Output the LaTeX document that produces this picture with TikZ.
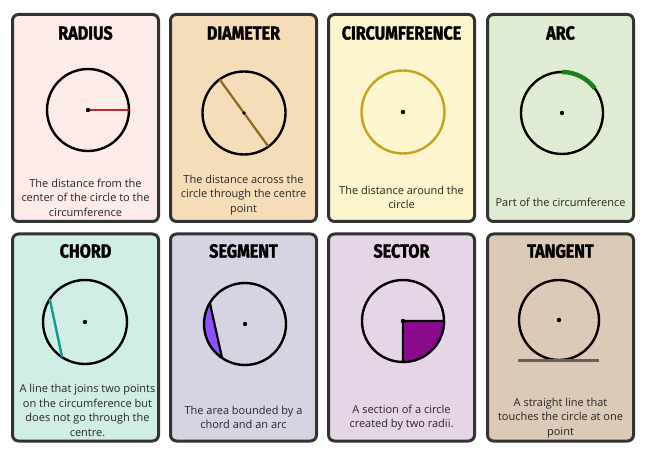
\documentclass[tikz,border=0pt]{standalone}
\usepackage{fontspec}
\usetikzlibrary{calc}
\setmainfont{Open Sans}
\newfontfamily\titlefont[FakeStretch=0.85,FakeBold=1.6]{Fira Sans}
\definecolor{bgA}{HTML}{FDEBEA}
\definecolor{bgB}{HTML}{F6DDB9}
\definecolor{bgC}{HTML}{FCF5CD}
\definecolor{bgD}{HTML}{E0EBD3}
\definecolor{bgE}{HTML}{D0EDE6}
\definecolor{bgF}{HTML}{D6D4E3}
\definecolor{bgG}{HTML}{E6D5E7}
\definecolor{bgH}{HTML}{DCCAB8}
\definecolor{bordc}{HTML}{333333}
\definecolor{txtc}{HTML}{262626}
\definecolor{radc}{HTML}{C0262D}
\definecolor{diac}{HTML}{8A6A1F}
\definecolor{circc}{HTML}{C9A020}
\definecolor{arcc}{HTML}{1E7D1E}
\definecolor{chordc}{HTML}{15998F}
\definecolor{segc}{HTML}{8C52FF}
\definecolor{secc}{HTML}{8B0A8B}
\definecolor{tanc}{HTML}{6A5E55}
\tikzset{
  card/.style={draw=bordc, line width=3pt, rounded corners=6pt, minimum width=146pt, minimum height=207pt, inner sep=0pt},
  ttl/.style={font=\titlefont\bfseries\fontsize{19}{20}\selectfont, text=black, inner sep=0pt},
  desc/.style={font=\fontsize{11}{14.6}\selectfont, text=txtc, align=center, inner sep=0pt},
  ring/.style={line width=2.4pt, draw=black},
  dot/.style={circle, fill=black, inner sep=0pt, minimum size=4.4pt},
}
\begin{document}
\begin{tikzpicture}[x=1pt, y=-1pt]
\useasboundingbox (0,0) rectangle (651,454);
\fill[white] (0,0) rectangle (651,454);
% cards
\node[card, fill=bgA] (c1) at (85.5,118) {};
\node[card, fill=bgB] (c2) at (243.5,118) {};
\node[card, fill=bgC] (c3) at (401.5,118) {};
\node[card, fill=bgD] (c4) at (560.5,118) {};
\node[card, fill=bgE] (c5) at (85.5,337.5) {};
\node[card, fill=bgF] (c6) at (243.5,337.5) {};
\node[card, fill=bgG] (c7) at (401.5,337.5) {};
\node[card, fill=bgH] (c8) at (560.5,337.5) {};
% titles
\node[ttl] (t1) at (85.5,33) {RADIUS};
\node[ttl] (t2) at (243.5,33) {DIAMETER};
\node[ttl] (t3) at (401.5,33) {CIRCUMFERENCE};
\node[ttl] (t4) at (560.5,33) {ARC};
\node[ttl] (t5) at (85.5,251) {CHORD};
\node[ttl] (t6) at (243.5,251) {SEGMENT};
\node[ttl] (t7) at (401.5,251) {SECTOR};
\node[ttl] (t8) at (560.5,251) {TANGENT};
% centres
\coordinate (o1) at (88,110);
\coordinate (o2) at (244,113);
\coordinate (o3) at (403,112);
\coordinate (o4) at (562,113);
\coordinate (o5) at (85,322);
\coordinate (o6) at (245,324);
\coordinate (o7) at (403,321);
\coordinate (o8) at (559,320);
% radius
\draw[ring] (o1) circle (41pt);
\coordinate (r1) at ($(o1)+(41pt,0pt)$);
\draw[radc, line width=2.2pt] (o1) -- (r1);
\node[dot] (d1) at (o1) {};
% diameter
\draw[ring] (o2) circle (41.5pt);
\coordinate (da) at ($(o2)+(126:41.5pt)$);
\coordinate (db) at ($(o2)+(306:41.5pt)$);
\draw[diac, line width=2.2pt] (da) -- (db);
\node[dot, minimum size=3.6pt] (d2) at (o2) {};
% circumference
\draw[line width=2.4pt, draw=circc] (o3) circle (41.5pt);
\node[dot] (d3) at (o3) {};
% arc
\draw[ring] (o4) circle (41pt);
\draw[arcc, line width=4.5pt] ($(o4)+(90:41pt)$) arc (90:37:41pt);
\node[dot] (d4) at (o4) {};
% chord
\draw[ring] (o5) circle (42pt);
\coordinate (ca) at ($(o5)+(147:42pt)$);
\coordinate (cb) at ($(o5)+(237:42pt)$);
\draw[chordc, line width=2.4pt] (ca) -- (cb);
\node[dot] (d5) at (o5) {};
% segment
\coordinate (sa) at ($(o6)+(149:41pt)$);
\coordinate (sb) at ($(o6)+(236:41pt)$);
\fill[segc] (sa) arc (149:236:41pt) -- cycle;
\draw[ring] (o6) circle (41pt);
\draw[line width=2.2pt] (sa) -- (sb);
\node[dot] (d6) at (o6) {};
% sector
\draw[ring] (o7) circle (41pt);
\coordinate (se) at ($(o7)+(0:41pt)$);
\filldraw[fill=secc, draw=black, line width=2.2pt, line join=round] (o7) -- (se) arc (0:-90:41pt) -- cycle;
\node[dot] (d7) at (o7) {};
% tangent
\draw[ring] (o8) circle (40pt);
\coordinate (ta) at (518,360.5);
\coordinate (tb) at (599,360.5);
\draw[tanc, line width=2.2pt] (ta) -- (tb);
\node[dot] (d8) at (o8) {};
% descriptions
\node[desc] (x1) at (85.5,197.5) {The distance from the\\center of the circle to the\\circumference};
\node[desc] (x2) at (243.5,195) {The distance across the\\circle through the centre\\point};
\node[desc] (x3) at (401.5,197.5) {The distance around the\\circle};
\node[desc] (x4) at (560.5,202) {Part of the circumference};
\node[desc] (x5) at (87.5,410.5) {A line that joins two points\\on the circumference but\\does not go through the\\centre.};
\node[desc] (x6) at (243.5,417.5) {The area bounded by a\\chord and an arc};
\node[desc] (x7) at (401.5,417.5) {A section of a circle\\created by two radii.};
\node[desc] (x8) at (560.5,418) {A straight line that\\touches the circle at one\\point};
\end{tikzpicture}
\end{document}
